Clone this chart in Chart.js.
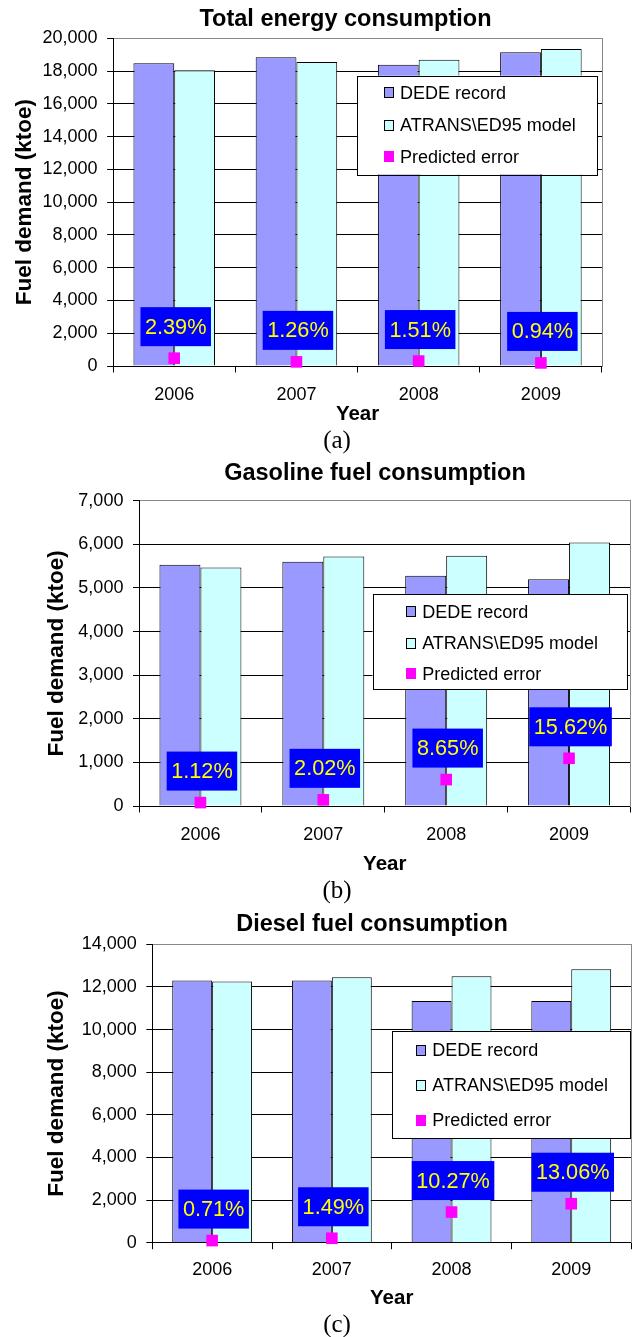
<!DOCTYPE html>
<html>
<head>
<meta charset="utf-8">
<script src="https://cdn.jsdelivr.net/npm/chart.js@4.4.1/dist/chart.umd.min.js"></script>
<style>
  html, body { margin: 0; padding: 0; overflow: hidden; background: #fff; }
  body { position: relative; width: 633px; height: 1337px; }
  .panel { position: absolute; left: 0; }
  .panel canvas { display: block; }
  .cap {
    position: absolute; width: 80px; margin-left: -40px; text-align: center;
    font-family: 'Liberation Serif', 'Times New Roman', serif;
    font-size: 25px; line-height: 25px; color: #000; z-index: 2;
  }
</style>
</head>
<body>
<div class="panel" style="top:0px"><canvas id="cTotal" width="691" height="430"></canvas></div>
<div class="panel" style="top:450px"><canvas id="cGas" width="750" height="440"></canvas></div>
<div class="panel" style="top:890px"><canvas id="cDiesel" width="744" height="447"></canvas></div>
<div class="cap" style="left:337px;top:427px">(a)</div>
<div class="cap" style="left:337px;top:877px">(b)</div>
<div class="cap" style="left:337px;top:1311px">(c)</div>

<script>
// Years on the category axis
const years = ['2006', '2007', '2008', '2009'];

// Total energy consumption (ktoe) and predicted error (%)
const totalDede  = [18470, 18840, 18390, 19150];
const totalModel = [18050, 18550, 18690, 19350];
const totalError = [2.39, 1.26, 1.51, 0.94];

// Gasoline fuel consumption (ktoe) and predicted error (%)
const gasDede  = [5530, 5600, 5280, 5200];
const gasModel = [5470, 5720, 5740, 6040];
const gasError = [1.12, 2.02, 8.65, 15.62];

// Diesel fuel consumption (ktoe) and predicted error (%)
const dieselDede  = [12300, 12300, 11340, 11340];
const dieselModel = [12250, 12450, 12500, 12830];
const dieselError = [0.71, 1.49, 10.27, 13.06];

// Series names
const seriesNames = ['DEDE record', 'ATRANS\\ED95 model', 'Predicted error'];

const FONT = "'Liberation Sans', Arial, Helvetica, sans-serif";
Chart.defaults.font.family = FONT;
Chart.defaults.color = '#000';

// Blue boxes with the error percentage, drawn above each error marker
function errorLabelPlugin(p) {
  return {
    id: 'errorLabels',
    afterDatasetsDraw(chart) {
      const idx = 2;
      const ds = chart.data.datasets[idx];
      const meta = chart.getDatasetMeta(idx);
      const ctx = chart.ctx;
      ctx.save();
      ctx.font = p.fontSize + 'px ' + FONT;
      ctx.textAlign = 'center';
      ctx.textBaseline = 'middle';
      meta.data.forEach((pt, i) => {
        const txt = ds.data[i].toFixed(2) + '%';
        const w = ctx.measureText(txt).width + 2 * p.padX;
        const h = p.boxHeight;
        const cx = pt.x + p.dx;
        const bottom = pt.y - p.gap;
        ctx.fillStyle = '#0000FF';
        ctx.fillRect(cx - w / 2, bottom - h, w, h);
        ctx.fillStyle = '#FFFF00';
        ctx.fillText(txt, cx, bottom - h / 2 + 1);
      });
      ctx.restore();
    }
  };
}

// Framed legend placed inside the plot area
function boxLegendPlugin(o) {
  return {
    id: 'boxLegend',
    afterDatasetsDraw(chart) {
      const ctx = chart.ctx;
      ctx.save();
      ctx.fillStyle = '#fff';
      ctx.fillRect(o.x, o.y, o.w, o.h);
      ctx.strokeStyle = '#000';
      ctx.lineWidth = 1;
      ctx.strokeRect(Math.round(o.x) + 0.5, Math.round(o.y) + 0.5, Math.round(o.w), Math.round(o.h));
      ctx.font = '18px ' + FONT;
      ctx.textAlign = 'left';
      ctx.textBaseline = 'middle';
      chart.data.datasets.forEach((ds, i) => {
        const cy = o.rows[i];
        const top = Math.round(cy - 5.5);
        const left = Math.round(o.markerX);
        ctx.fillStyle = ds.backgroundColor;
        ctx.fillRect(left, top, 10, 11);
        if (ds.type !== 'line') {
          ctx.strokeStyle = '#000';
          ctx.strokeRect(left + 0.5, top + 0.5, 9, 10);
        }
        ctx.fillStyle = '#000';
        ctx.fillText(ds.label, o.textX, cy + 0.9);
      });
      ctx.restore();
    }
  };
}

function makeChart(id, c) {
  return new Chart(document.getElementById(id), {
    type: 'bar',
    data: {
      labels: years,
      datasets: [
        {
          label: seriesNames[0], data: c.dede,
          backgroundColor: '#9999FF', borderColor: '#000', borderWidth: 1,
          categoryPercentage: 0.667, barPercentage: 1.0, order: 1
        },
        {
          label: seriesNames[1], data: c.model,
          backgroundColor: '#CCFFFF', borderColor: '#000', borderWidth: 1,
          categoryPercentage: 0.667, barPercentage: 1.0, order: 1
        },
        {
          type: 'line', label: seriesNames[2], data: c.error, yAxisID: 'y1',
          showLine: false, pointStyle: 'rect', pointRadius: 8.2, pointHoverRadius: 8.2,
          backgroundColor: '#FF00FF', borderColor: '#FF00FF', borderWidth: 0,
          clip: false, order: 0
        }
      ]
    },
    options: {
      responsive: false,
      animation: false,
      events: [],
      layout: { padding: { top: 0, left: 0, right: 0, bottom: c.padB } },
      plugins: {
        legend: { display: false },
        tooltip: { enabled: false },
        title: {
          display: true, text: c.title, color: '#000',
          font: { family: FONT, size: 23.5, weight: 'bold', lineHeight: 1.2 },
          padding: { top: c.titleTop, bottom: c.titleBottom }
        }
      },
      scales: {
        x: {
          grid: { display: true, drawOnChartArea: false, drawTicks: true, tickLength: 6.5, color: '#000', lineWidth: 1 },
          border: { display: true, color: '#000', width: 1 },
          ticks: { color: '#000', font: { family: FONT, size: 18 }, padding: c.xTickPad, maxRotation: 0 },
          title: {
            display: true, text: 'Year', color: '#000',
            font: { family: FONT, size: 20.5, weight: 'bold', lineHeight: 1.2 },
            padding: { top: 0, bottom: 0 }
          },
          afterFit: s => { s.height = c.xHeight; }
        },
        y: {
          min: 0, max: c.max,
          ticks: {
            stepSize: c.step, color: '#000', padding: 9.6,
            font: { family: FONT, size: 18 },
            callback: v => Number(v).toLocaleString('en-US')
          },
          grid: {
            color: ctx => (ctx.tick && ctx.tick.value === c.max) ? '#888' : '#000',
            tickColor: '#000', tickLength: 6, lineWidth: 1
          },
          border: { display: true, color: '#000', width: 1 },
          title: {
            display: true, text: 'Fuel demand (ktoe)', color: '#000',
            font: { family: FONT, size: 22.5, weight: 'bold', lineHeight: 1.2 },
            padding: { top: c.yTitlePad, bottom: 0 }
          },
          afterFit: s => { s.width = c.left; }
        },
        y1: {
          position: 'right', min: 0, max: 100,
          ticks: { display: false },
          grid: { display: false },
          border: { display: true, color: '#888', width: 1 },
          afterFit: s => { s.width = c.rightGap; }
        }
      }
    },
    plugins: [
      errorLabelPlugin({ fontSize: 21.7, padX: 4.5, boxHeight: 39, gap: 12, dx: 1.5 }),
      boxLegendPlugin(c.legend)
    ]
  });
}

makeChart('cTotal', {
  title: 'Total energy consumption',
  dede: totalDede, model: totalModel, error: totalError,
  max: 20000, step: 2000,
  titleTop: 5.3, titleBottom: 4.8,
  left: 113.1, rightGap: 89, xHeight: 60.3, padB: 3.7,
  xTickPad: 11.4, yTitlePad: 11.7,
  legend: { x: 357, y: 75.7, w: 240, h: 98.8, markerX: 384.3, textX: 400, rows: [92.8, 125, 156.7] }
});

makeChart('cGas', {
  title: 'Gasoline fuel consumption',
  dede: gasDede, model: gasModel, error: gasError,
  max: 7000, step: 1000,
  titleTop: 9.8, titleBottom: 12.7,
  left: 139, rightGap: 119.5, xHeight: 71.1, padB: 12.9,
  xTickPad: 11.3, yTitlePad: 43,
  legend: { x: 372.5, y: 144.3, w: 254.4, h: 95, markerX: 406, textX: 422.2, rows: [161.7, 193.3, 223.7] }
});

makeChart('cDiesel', {
  title: 'Diesel fuel consumption',
  dede: dieselDede, model: dieselModel, error: dieselError,
  max: 14000, step: 2000,
  titleTop: 20, titleBottom: 6.1,
  left: 152.3, rightGap: 112.9, xHeight: 68.1, padB: 26.2,
  xTickPad: 9.7, yTitlePad: 43,
  legend: { x: 391.9, y: 141, w: 238.4, h: 107.3, markerX: 416.2, textX: 432.3, rows: [160.3, 195, 230.3] }
});
</script>
</body>
</html>
